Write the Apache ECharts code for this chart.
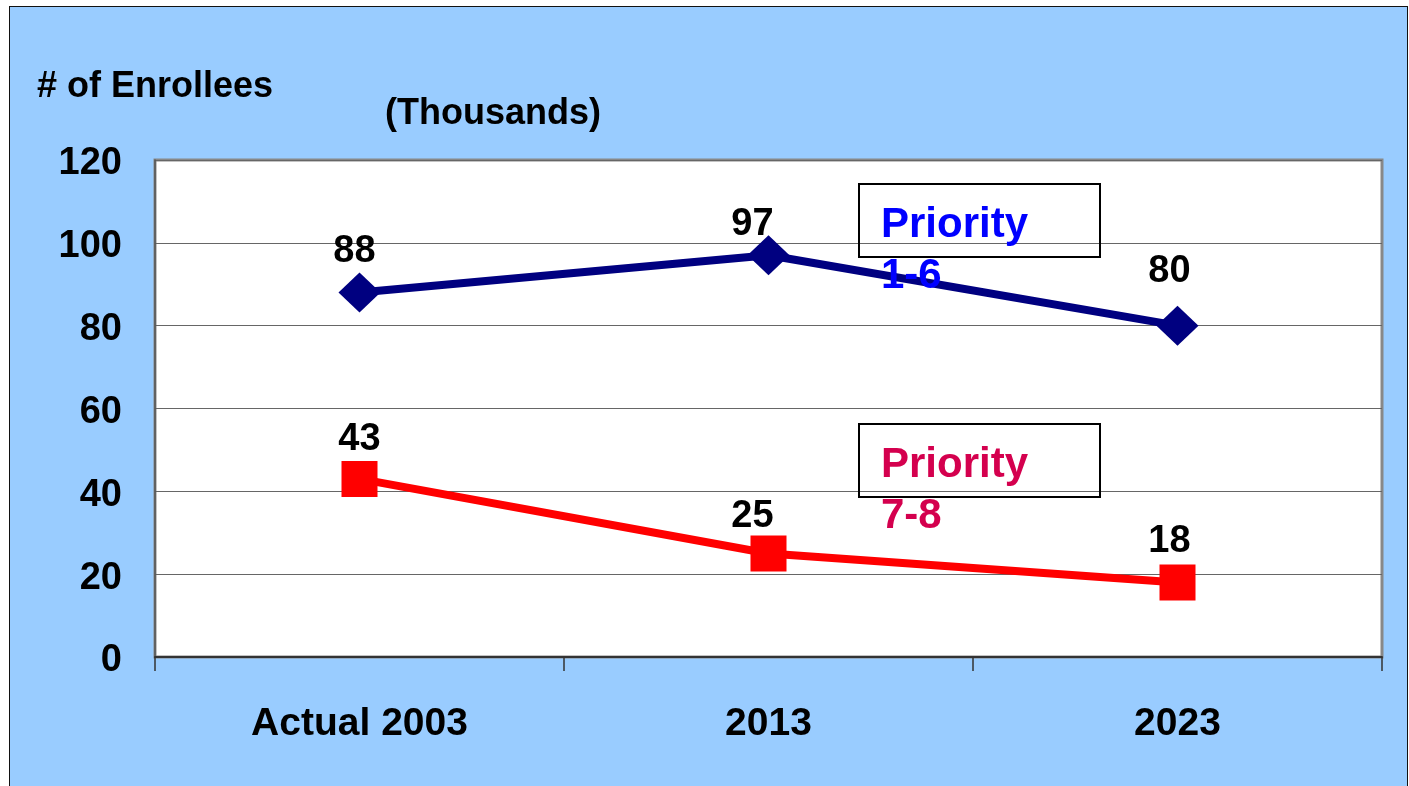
<!DOCTYPE html>
<html>
<head>
<meta charset="utf-8">
<script src="https://cdn.jsdelivr.net/npm/echarts@6/dist/echarts.min.js"></script>
<style>
html,body{margin:0;padding:0;background:#fff;}
#wrap{position:relative;width:1409px;height:786px;overflow:hidden;}
#bg{position:absolute;left:9px;top:6px;width:1397px;height:800px;background:#99CCFF;border:1.5px solid #111;}
#chart{position:absolute;left:0;top:0;width:1409px;height:786px;}
</style>
</head>
<body>
<div id="wrap"><div id="bg"></div><div id="chart"></div></div>
<script>
const categories = ['Actual 2003', '2013', '2023'];
const priority16 = [88, 97, 80];
const priority78 = [43, 25, 18];
const yTicks = [0, 20, 40, 60, 80, 100, 120];
const labelOffsets16 = [[-5, -41], [-16, -31], [-8, -54]];
const labelOffsets78 = [[0, -39], [-16, -37], [-8, -41]];

const FONT = '"Liberation Sans", Arial, sans-serif';

function build(values, offsets) {
  return values.map((v, i) => ({ value: v, label: { offset: offsets[i] } }));
}

const chart = echarts.init(document.getElementById('chart'), null, { renderer: 'canvas' });
chart.setOption({
  backgroundColor: 'transparent',
  animation: false,
  grid: {
    left: 155, right: 27, top: 160, bottom: 129,
    show: true, backgroundColor: '#fff', borderColor: '#888', borderWidth: 3
  },
  xAxis: {
    type: 'category',
    data: categories,
    boundaryGap: true,
    axisLine: { show: true, lineStyle: { color: '#333', width: 2 } },
    axisTick: { show: true, length: 14, lineStyle: { color: '#333', width: 1.5 } },
    axisLabel: { fontFamily: FONT, fontWeight: 'bold', fontSize: 39, color: '#000', margin: 48 },
    splitLine: { show: false }
  },
  yAxis: {
    type: 'value',
    min: yTicks[0], max: yTicks[yTicks.length - 1], interval: 20,
    axisLine: { show: true, lineStyle: { color: '#555', width: 1.5 } },
    axisTick: { show: false },
    axisLabel: {
      margin: 33,
      formatter: '{a|{value}}',
      rich: { a: { fontFamily: FONT, fontWeight: 'bold', fontSize: 38, color: '#000', padding: [8, 0, 0, 0] } }
    },
    splitLine: { show: true, lineStyle: { color: '#666', width: 1.2 } }
  },
  series: [
    {
      type: 'line',
      name: 'Priority 1-6',
      data: build(priority16, labelOffsets16),
      symbol: 'diamond',
      symbolSize: [42, 40],
      lineStyle: { color: '#000080', width: 8 },
      itemStyle: { color: '#000080' },
      label: { show: true, position: 'inside', fontFamily: FONT, fontWeight: 'bold', fontSize: 38, color: '#000' },
      z: 3
    },
    {
      type: 'line',
      name: 'Priority 7-8',
      data: build(priority78, labelOffsets78),
      symbol: 'rect',
      symbolSize: 36,
      lineStyle: { color: '#FF0000', width: 8 },
      itemStyle: { color: '#FF0000' },
      label: { show: true, position: 'inside', fontFamily: FONT, fontWeight: 'bold', fontSize: 38, color: '#000' },
      z: 3
    }
  ],
  graphic: [
    { type: 'text', z: 100, style: { text: '# of Enrollees', x: 37, y: 87, font: 'bold 36px ' + FONT, fill: '#000', textVerticalAlign: 'middle' } },
    { type: 'text', z: 100, style: { text: '(Thousands)', x: 385, y: 114, font: 'bold 36px ' + FONT, fill: '#000', textVerticalAlign: 'middle' } },
    { type: 'rect', z: 100, shape: { x: 859, y: 184, width: 241, height: 73 }, style: { fill: 'none', stroke: '#000', lineWidth: 2 } },
    { type: 'text', z: 101, style: { text: 'Priority', x: 881, y: 225, font: 'bold 42px ' + FONT, fill: '#0000FF', textVerticalAlign: 'middle' } },
    { type: 'text', z: 101, style: { text: '1-6', x: 881, y: 276, font: 'bold 42px ' + FONT, fill: '#0000FF', textVerticalAlign: 'middle' } },
    { type: 'rect', z: 100, shape: { x: 859, y: 424, width: 241, height: 73 }, style: { fill: 'none', stroke: '#000', lineWidth: 2 } },
    { type: 'text', z: 101, style: { text: 'Priority', x: 881, y: 465, font: 'bold 42px ' + FONT, fill: '#D4004E', textVerticalAlign: 'middle' } },
    { type: 'text', z: 101, style: { text: '7-8', x: 881, y: 516, font: 'bold 42px ' + FONT, fill: '#D4004E', textVerticalAlign: 'middle' } }
  ]
});
</script>
</body>
</html>
